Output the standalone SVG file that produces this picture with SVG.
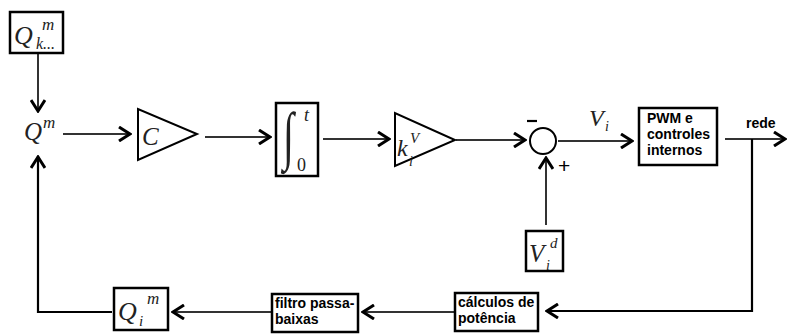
<svg xmlns="http://www.w3.org/2000/svg" width="787" height="334" viewBox="0 0 787 334">
  <style>
    .box { fill: #fff; stroke: #000; stroke-width: 2.5; }
    .blk { fill: #fff; stroke: #000; stroke-width: 2; }
    .wire { fill: none; stroke: #333; stroke-width: 2; }
    .wireb { fill: none; stroke: #000; stroke-width: 2.2; }
    .math { font-family: "Liberation Serif", "DejaVu Serif", serif; font-style: italic; fill: #222; }
    .up { font-family: "Liberation Serif", "DejaVu Serif", serif; fill: #222; }
    .lbl { font-family: "Liberation Sans", Arial, sans-serif; font-weight: bold; font-size: 14px; fill: #000; }
  </style>
  <defs>
    <marker id="ah" viewBox="0 0 14 16" refX="13" refY="8" markerWidth="14" markerHeight="16" orient="auto" markerUnits="userSpaceOnUse">
      <path d="M1,1 L12,8 L1,15" fill="none" stroke="#000" stroke-width="3"/>
    </marker>
  </defs>

  <rect width="787" height="334" fill="#fff"/>

  <!-- connectors -->
  <g id="connectors">
    <line class="wire" x1="38" y1="54" x2="38" y2="112" marker-end="url(#ah)"/>
    <line class="wire" x1="63" y1="134" x2="131" y2="134" marker-end="url(#ah)"/>
    <line class="wire" x1="205" y1="137" x2="271" y2="137" marker-end="url(#ah)"/>
    <line class="wire" x1="323" y1="139" x2="390" y2="139" marker-end="url(#ah)"/>
    <line class="wire" x1="456" y1="140" x2="526" y2="140" marker-end="url(#ah)"/>
    <line class="wire" x1="558" y1="141" x2="633" y2="141" marker-end="url(#ah)"/>
    <line class="wire" x1="546" y1="225" x2="546" y2="157" marker-end="url(#ah)"/>
    <line class="wire" x1="725" y1="139" x2="786" y2="139" marker-end="url(#ah)"/>
    <polyline class="wireb" points="752,139 752,311 546,311" marker-end="url(#ah)"/>
    <line class="wire" x1="454" y1="312" x2="362" y2="312" marker-end="url(#ah)"/>
    <line class="wire" x1="271" y1="312" x2="172" y2="312" marker-end="url(#ah)"/>
    <polyline class="wireb" points="112,312 38,312 38,156" marker-end="url(#ah)"/>
  </g>

  <!-- Q_k^m source -->
  <g id="qk">
    <rect class="box" x="10" y="12" width="53" height="41"/>
    <text class="math" x="14" y="44" font-size="26">Q</text>
    <text class="math" x="42" y="30" font-size="17">m</text>
    <text class="math" x="36" y="49" font-size="16">k...</text>
  </g>

  <!-- Q^m summing point -->
  <g id="qm">
    <text class="math" x="24" y="140" font-size="25">Q</text>
    <text class="math" x="43" y="128" font-size="17">m</text>
  </g>

  <!-- gain C -->
  <g id="gainC">
    <polygon class="blk" points="138,109 138,160 197,134"/>
    <text class="math" x="142" y="145" font-size="25">C</text>
  </g>

  <!-- integrator -->
  <g id="integ">
    <rect class="box" x="276" y="103" width="42" height="73"/>
    <text class="up" x="283" y="100" font-size="40" transform="translate(0,-3) scale(1,1.6)">∫</text>
    <text class="math" x="304" y="121" font-size="18">t</text>
    <text class="up" x="297" y="171" font-size="18">0</text>
  </g>

  <!-- gain k_i^V -->
  <g id="gainK">
    <polygon class="blk" points="395,113 395,166 455,140"/>
    <text class="math" x="397" y="156" font-size="24">k</text>
    <text class="math" x="410" y="143" font-size="15">V</text>
    <text class="math" x="409" y="166" font-size="14">i</text>
  </g>

  <!-- summing junction -->
  <g id="sum">
    <circle cx="543" cy="141" r="13" fill="#fff" stroke="#000" stroke-width="2"/>
    <line x1="527" y1="121" x2="537" y2="121" stroke="#000" stroke-width="2.2"/>
    <text x="558" y="173" font-family="Liberation Sans, Arial, sans-serif" font-size="21" fill="#000">+</text>
  </g>

  <!-- V_i label on wire -->
  <g id="vi">
    <text class="math" x="589" y="126" font-size="24">V</text>
    <text class="math" x="605" y="131" font-size="14">i</text>
  </g>

  <!-- reference V_i^d -->
  <g id="vid">
    <rect class="box" x="526" y="231" width="37" height="40"/>
    <text class="math" x="529" y="262" font-size="25">V</text>
    <text class="math" x="550" y="248" font-size="15">d</text>
    <text class="math" x="546" y="270" font-size="14">i</text>
  </g>

  <!-- PWM block -->
  <g id="pwm">
    <rect class="box" x="639" y="108" width="78" height="57"/>
    <text class="lbl" x="647" y="123">PWM e</text>
    <text class="lbl" x="647" y="139">controles</text>
    <text class="lbl" x="647" y="155">internos</text>
  </g>

  <!-- grid label -->
  <g id="rede">
    <text class="lbl" x="746" y="128" font-size="12">rede</text>
  </g>

  <!-- power calculation -->
  <g id="calc">
    <rect class="box" x="455" y="293" width="83" height="38"/>
    <text class="lbl" x="458" y="307">cálculos de</text>
    <text class="lbl" x="458" y="323">potência</text>
  </g>

  <!-- low-pass filter -->
  <g id="filtro">
    <rect class="box" x="272" y="294" width="86" height="38"/>
    <text class="lbl" x="275" y="308">filtro passa-</text>
    <text class="lbl" x="275" y="324">baixas</text>
  </g>

  <!-- Q_i^m -->
  <g id="qi">
    <rect class="box" x="114" y="288" width="54" height="42"/>
    <text class="math" x="118" y="320" font-size="26">Q</text>
    <text class="math" x="139" y="326" font-size="15">i</text>
    <text class="math" x="147" y="304" font-size="17">m</text>
  </g>
</svg>
